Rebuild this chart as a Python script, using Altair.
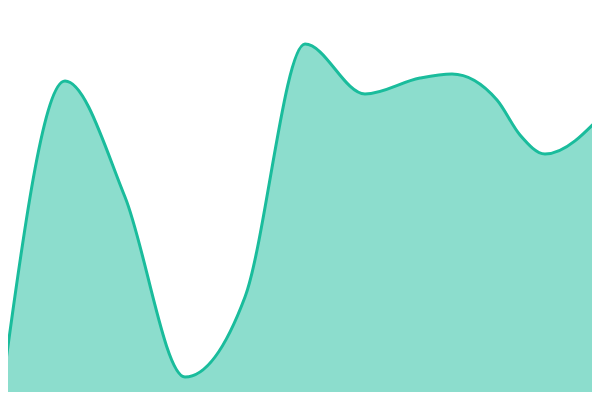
import altair as alt
import pandas as pd

xs = [-55, 5, 65, 125, 185, 245, 305, 365, 420, 452, 497, 520, 545, 605]
values = [-570, 32, 319, 203, 23, 103, 356, 306, 322, 326, 300, 265, 246, 288]

df = pd.DataFrame({"x": xs, "v": values})

x = alt.X("x:Q", scale=alt.Scale(domain=[8, 592], nice=False, zero=False), axis=None)
y = alt.Y("v:Q", scale=alt.Scale(domain=[8, 392], nice=False, zero=False), axis=None)

area = alt.Chart(df).mark_area(
    interpolate="monotone", color="#1abc9c", opacity=0.5, clip=True
).encode(x=x, y=y, y2=alt.datum(-50))

line = alt.Chart(df).mark_line(
    interpolate="monotone", color="#1abc9c", strokeWidth=3, clip=True
).encode(x=x, y=y)

chart = (area + line).properties(
    width=584,
    height=384,
    padding=0,
    autosize="none",
).configure_view(stroke=None)

chart.save("out.html", embed_options={"renderer": "svg", "actions": False})
